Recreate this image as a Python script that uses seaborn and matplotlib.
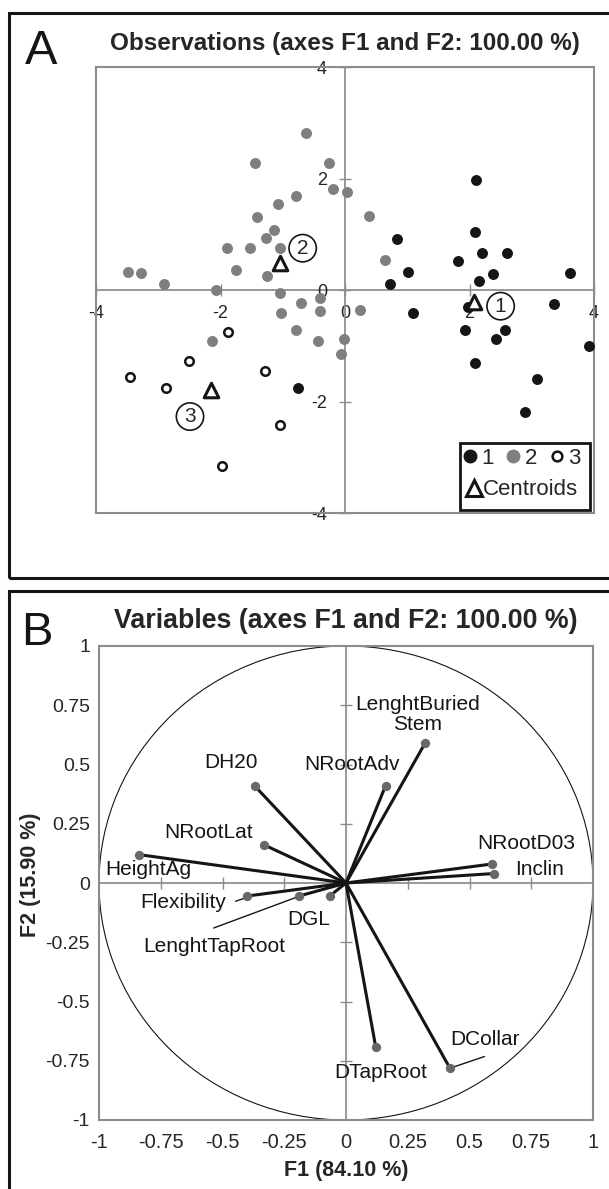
import numpy as np
import pandas as pd
import matplotlib
matplotlib.use('Agg')
import matplotlib.pyplot as plt
import seaborn as sns
from matplotlib.lines import Line2D
from matplotlib.patches import Rectangle, Ellipse

# --- Datos panel A: observaciones por clase ---
c1_x = [2.11, 2.09, 0.83, 2.20, 2.61, 1.82, 3.61, 1.02, 2.37, 2.16, 0.72, 1.98,
        3.36, 1.10, 1.92, 2.57, 2.43, 3.92, 2.09, 3.08, -0.76, 2.89]
c1_y = [1.97, 1.04, 0.91, 0.67, 0.66, 0.52, 0.31, 0.32, 0.28, 0.17, 0.11, -0.30,
        -0.26, -0.42, -0.72, -0.72, -0.87, -1.00, -1.31, -1.59, -1.76, -2.19]

c2_x = [-0.62, -1.44, -0.26, -0.20, 0.04, -0.78, -1.07, 0.39, -1.41, -1.14, -1.27,
        -1.04, -1.90, -1.52, 0.64, -1.75, -1.25, -3.48, -3.28, -2.90, -2.08, -1.05,
        -0.71, -0.40, -1.03, -0.40, 0.24, -0.79, -0.44, -0.02, -0.07, -2.13]
c2_y = [2.81, 2.27, 2.27, 1.81, 1.75, 1.68, 1.55, 1.33, 1.31, 1.07, 0.94,
        0.76, 0.75, 0.75, 0.54, 0.35, 0.25, 0.33, 0.30, 0.11, 0.00, -0.05,
        -0.23, -0.14, -0.41, -0.37, -0.35, -0.72, -0.91, -0.88, -1.15, -0.91]

c3_x = [-1.88, -2.50, -3.46, -2.87, -1.29, -1.05, -1.97]
c3_y = [-0.75, -1.28, -1.56, -1.76, -1.46, -2.42, -3.15]

centroide_x = [2.08, -1.04, -2.15]
centroide_y = [-0.21, 0.48, -1.79]
clases = ['1', '2', '3']

# --- Datos panel B: variables ---
variables = ['LenghtBuried\nStem', 'NRootAdv', 'DH20', 'NRootLat', 'HeightAg', 'NRootD03',
             'Inclin', 'Flexibility', 'LenghtTapRoot', 'DGL', 'DTapRoot', 'DCollar']
var_f1 = [0.32, 0.16, -0.37, -0.33, -0.84, 0.59, 0.60, -0.40, -0.19, -0.066, 0.12, 0.42]
var_f2 = [0.59, 0.41, 0.41, 0.16, 0.12, 0.08, 0.04, -0.055, -0.055, -0.055, -0.69, -0.78]

ticks_a = [-4, -2, 0, 2, 4]
ticks_b = [-1, -0.75, -0.5, -0.25, 0, 0.25, 0.5, 0.75, 1]

# posiciones de las etiquetas (solo diseño)
pos_etiquetas = [(0.29, 0.712), (0.024, 0.498), (-0.467, 0.508), (-0.556, 0.212),
                 (-0.80, 0.055), (0.729, 0.167), (0.784, 0.055), (-0.658, -0.082),
                 (-0.533, -0.268), (-0.152, -0.152), (0.141, -0.80), (0.564, -0.66)]
pos_numeros = [(2.50, -0.29), (-0.68, 0.75), (-2.49, -2.27)]

NEGRO = '#151515'
GRIS = '#7f7f7f'
GRIS_EJE = '#8c8c8c'

sns.set_theme(style='white')
plt.rcParams['font.family'] = ['Liberation Sans', 'DejaVu Sans']

W, H = 609, 1189
fig = plt.figure(figsize=(W / 100, H / 100), dpi=100)

# marcos de los paneles
fig.patches.append(Rectangle((9 / W, 1 - 578 / H), 1.0, 565 / H, transform=fig.transFigure,
                             fill=False, ec=NEGRO, lw=2.2))
fig.patches.append(Rectangle((9 / W, -0.05), 1.0, 0.05 + 1 - 591 / H, transform=fig.transFigure,
                             fill=False, ec=NEGRO, lw=2.2))

# ================= Panel A =================
ax1 = fig.add_axes([96 / W, 1 - 513 / H, 498 / W, 446 / H])
ax1.set_xlim(-4, 4)
ax1.set_ylim(-4, 4)
ax1.set_xticks([])
ax1.set_yticks([])
for s in ax1.spines.values():
    s.set_color(GRIS_EJE)
    s.set_linewidth(1.5)

sx = ax1.secondary_xaxis(0.5)
sx.set_alignment('bottom')
sx.set_xticks(ticks_a)
sx.set_xticklabels([f'{t:g}' for t in ticks_a])
sx.tick_params(direction='inout', length=8.6, width=1, color=GRIS_EJE, labelsize=13, pad=6.5)
sx.spines['bottom'].set_color(GRIS_EJE)

sy = ax1.secondary_yaxis(0.5)
sy.set_alignment('left')
sy.set_yticks(ticks_a)
sy.set_yticklabels([f'{t:g}' for t in ticks_a])
sy.tick_params(direction='inout', length=8.6, width=1, color=GRIS_EJE, labelsize=13, pad=8.6)
sy.spines['left'].set_color(GRIS_EJE)

df_obs = pd.DataFrame({
    'F1': c1_x + c2_x + c3_x,
    'F2': c1_y + c2_y + c3_y,
    'clase': ['1'] * len(c1_x) + ['2'] * len(c2_x) + ['3'] * len(c3_x),
})
sns.scatterplot(data=df_obs[df_obs['clase'] == '1'], x='F1', y='F2', color=NEGRO, s=62,
                linewidth=0, ax=ax1, zorder=3, legend=False)
sns.scatterplot(data=df_obs[df_obs['clase'] == '2'], x='F1', y='F2', color=GRIS, s=62,
                linewidth=0, ax=ax1, zorder=3, legend=False)
sns.scatterplot(data=df_obs[df_obs['clase'] == '3'], x='F1', y='F2', facecolor='white',
                edgecolor=NEGRO, s=38, linewidth=1.8, ax=ax1, zorder=3, legend=False)
sns.scatterplot(x=centroide_x, y=centroide_y, marker='^', facecolor='white', edgecolor=NEGRO,
                s=110, linewidth=2.2, ax=ax1, zorder=4, legend=False)

for (px, py), c in zip(pos_numeros, clases):
    ax1.text(px, py, c, ha='center', va='center', fontsize=15, zorder=5,
             bbox=dict(boxstyle='circle,pad=0.2', fc='none', ec=NEGRO, lw=1.2))

ax1.set_title('Observations (axes F1 and F2: 100.00 %)', fontweight='bold', fontsize=17.5, pad=12)
ax1.set_xlabel('F1 (84.10 %)', fontweight='bold', fontsize=15.5)
ax1.xaxis.set_label_coords(0.5, -0.0605)
ax1.set_ylabel('F2 (15.90 %)', fontweight='bold', fontsize=15.5)
ax1.yaxis.set_label_coords(-0.044, 0.478)

h1 = Line2D([], [], marker='o', ls='none', color=NEGRO, markersize=9)
h2 = Line2D([], [], marker='o', ls='none', color=GRIS, markersize=9)
h3 = Line2D([], [], marker='o', ls='none', mfc='white', mec=NEGRO, mew=1.8, markersize=7)
hc = Line2D([], [], marker='^', ls='none', mfc='white', mec=NEGRO, mew=2.2, markersize=11)
leg1 = ax1.legend([h1, h2, h3], clases, ncol=3, loc='center', bbox_to_anchor=(0.855, 0.123),
                  frameon=False, handlelength=0.6, handletextpad=0.2, columnspacing=0.6,
                  fontsize=16, borderpad=0)
ax1.add_artist(leg1)
ax1.legend([hc], ['Centroids'], loc='center', bbox_to_anchor=(0.857, 0.052), frameon=False,
           handlelength=0.6, handletextpad=0.1, fontsize=16, borderpad=0)
ax1.add_patch(Rectangle((0.731, 0.0067), 0.261, 0.150, transform=ax1.transAxes,
                        fc='white', ec=NEGRO, lw=2, zorder=4.5))

# ================= Panel B =================
ax2 = fig.add_axes([99 / W, 1 - 1120 / H, 494 / W, 474 / H])
ax2.set_xlim(-1, 1)
ax2.set_ylim(-1, 1)
ax2.set_xticks(ticks_b)
ax2.set_xticklabels([f'{t:g}' for t in ticks_b])
ax2.set_yticks(ticks_b)
ax2.set_yticklabels([f'{t:g}' for t in ticks_b])
ax2.tick_params(axis='x', length=0, labelsize=14.5, pad=9.4)
ax2.tick_params(axis='y', length=0, labelsize=14, pad=6.5)
for s in ax2.spines.values():
    s.set_color(GRIS_EJE)
    s.set_linewidth(1.5)

marcas = [-0.75, -0.5, -0.25, 0.25, 0.5, 0.75]
bx = ax2.secondary_xaxis(0.5)
bx.set_xticks(marcas)
bx.set_xticklabels([])
bx.tick_params(direction='inout', length=8, width=1, color=GRIS_EJE)
bx.spines['top'].set_color(GRIS_EJE)
by = ax2.secondary_yaxis(0.5)
by.set_yticks(marcas)
by.set_yticklabels([])
by.tick_params(direction='inout', length=8, width=1, color=GRIS_EJE)
by.spines['right'].set_color(GRIS_EJE)

ax2.add_patch(Ellipse((0, 0), 2, 2, fill=False, ec=NEGRO, lw=0.8))

for x, y in zip(var_f1, var_f2):
    ax2.plot([0, x], [0, y], color=NEGRO, lw=2.2, solid_capstyle='round', zorder=3)
sns.scatterplot(x=var_f1, y=var_f2, color='#686868', s=45, linewidth=0, ax=ax2, zorder=4,
                legend=False)

for (lx, ly), nombre in zip(pos_etiquetas, variables):
    ax2.text(lx, ly, nombre, ha='center', va='center', fontsize=15, linespacing=1.05,
             color=NEGRO, zorder=5)

# líneas guía de algunas etiquetas
ax2.plot([-0.447, -0.405], [-0.077, -0.062], color=NEGRO, lw=1)
ax2.plot([-0.536, -0.20], [-0.19, -0.06], color=NEGRO, lw=1)
ax2.plot([0.561, 0.425], [-0.732, -0.78], color=NEGRO, lw=1)

ax2.set_title('Variables (axes F1 and F2: 100.00 %)', fontweight='bold', fontsize=19.3, pad=13)
ax2.set_xlabel('F1 (84.10 %)', fontweight='bold', fontsize=15.5)
ax2.xaxis.set_label_coords(0.5, -0.0844)
ax2.set_ylabel('F2 (15.90 %)', fontweight='bold', fontsize=15.5)
ax2.yaxis.set_label_coords(-0.117, 0.517)

fig.text(25 / W, 1 - 64 / H, 'A', fontsize=35, va='baseline', ha='left', color=NEGRO)
fig.text(21 / W, 1 - 645 / H, 'B', fontsize=34, va='baseline', ha='left', color=NEGRO)

fig.savefig('out.png', dpi=100)
plt.close(fig)
